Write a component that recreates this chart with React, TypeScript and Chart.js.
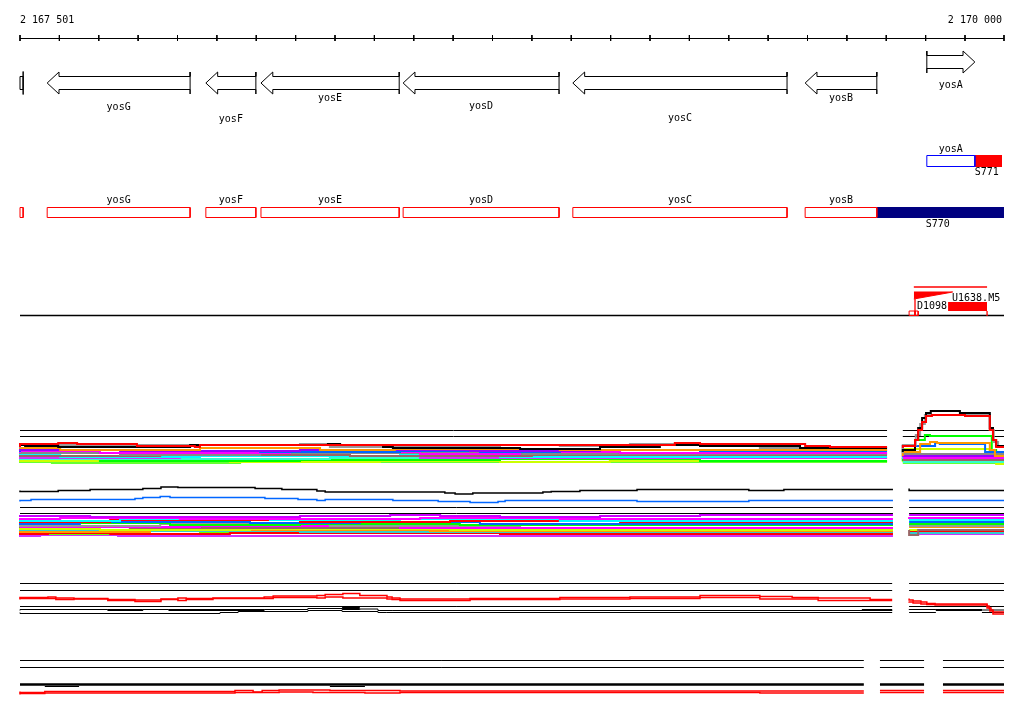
import React, { useEffect, useRef } from 'react';
import { Chart, registerables } from 'chart.js';

Chart.register(...registerables);

type Pt = [number, number] | null;

// ---------- window / axis (positions in bp from window start) ----------
const WINDOW_START = 2167501;
const WINDOW_END = 2170000;
const tickPositions = [0, 100, 200, 300, 400, 500, 600, 700, 800, 900, 1000, 1100, 1200, 1300, 1400, 1500, 1600, 1700, 1800, 1900, 2000, 2100, 2200, 2300, 2400, 2499];
const tickLabels = ['2 167 501', '2 170 000'];

// ---------- genes ----------
const geneNames = ['', 'yosG', 'yosF', 'yosE', 'yosD', 'yosC', 'yosB', 'yosA'];
const geneStarts = [0, 69, 472, 612, 973, 1404, 1994, 2303];
const geneEnds = [8, 432, 599, 963, 1369, 1948, 2176, 2425];
const geneStrands = [-1, -1, -1, -1, -1, -1, -1, 1];
const geneLabelLevels = [0, 107, 119, 98, 106, 118, 98, 85];

// ---------- transcription segments ----------
const yosAUtr = [2303, 2425];
const s771Span = [2425, 2494];
const s770Span = [2176, 2499];
const segmentLabels = ['S771', 'S770'];
const segmentLabelPos = [2455, 2331];

// ---------- promoter / terminator track ----------
const u1638Span = [2270, 2456];
const u1638Ramp: Pt[] = [[2270, 299], [2369, 292]];
const d1098Block = [2357, 2456];
const d1098Edges = [2273, 2456];
const smallBoxes = [[2258, 2273], [2273, 2281]];

// ---------- track spans (gaps = missing data) ----------
const trackASpans = [[0, 2202], [2242, 2499]];
const trackBSpans = [[0, 2217], [2258, 2499]];
const trackCSpans = [[0, 2215], [2258, 2499]];
const trackDSpans = [[0, 2143], [2184, 2296], [2344, 2499]];
const trackAGuides = [430.5, 436.5];
const trackBGuides = [507.5, 513.5];
const trackCGuides = [583.5, 590.5, 606.5];
const trackDGuides = [660.5, 667.5];
const trackDBase = 684.5;

// ---------- expression band A ----------
const bandAColors = ['#ff0000', '#000000', '#999999', '#ff9900', '#9900ff', '#0066ff', '#ff00ff', '#888888', '#996666', '#00ffff', '#cc33ff', '#33ffcc', '#00ff00', '#ccff00', '#66ff33'];
const bandA: Pt[][] = [
  [[0, 447], [97, 444], [145, 443], [297, 444], [444, 446], [457, 447], [1663, 445], [1727, 443], [1994, 444], [2057, 446], [2083, 447], [2202, 447], null, [2242, 448], [2273, 446], [2281, 440], [2291, 430], [2301, 422], [2316, 416], [2400, 415], [2463, 416], [2471, 430], [2479, 440], [2489, 447], [2499, 447]],
  [[0, 447], [13, 445], [97, 446], [432, 447], [782, 445], [813, 444], [922, 445], [947, 447], [1270, 448], [1473, 449], [1625, 447], [1727, 445], [1981, 446], [2083, 448], [2202, 448], null, [2242, 452], [2273, 450], [2281, 440], [2291, 428], [2301, 418], [2313, 413], [2387, 411], [2463, 413], [2471, 428], [2479, 440], [2489, 446], [2499, 446]],
  [[0, 448], [102, 445], [711, 445], [787, 444], [947, 447], [1219, 446], [1371, 445], [1549, 446], [1778, 444], [1879, 446], [1981, 448], [2202, 448], null, [2242, 453], [2275, 445], [2286, 435], [2298, 424], [2311, 415], [2463, 415], [2473, 430], [2484, 442], [2494, 447], [2499, 447]],
  [[0, 449], [102, 448], [457, 450], [762, 448], [952, 450], [1371, 449], [1600, 450], [2202, 450], null, [2242, 456], [2286, 452], [2311, 444], [2329, 442], [2463, 443], [2476, 450], [2489, 456], [2499, 456]],
  [[0, 451], [254, 450], [711, 451], [1143, 450], [1473, 451], [1879, 450], [2202, 450], null, [2242, 457], [2311, 456], [2499, 456]],
  [[0, 452], [381, 450], [610, 451], [965, 452], [1168, 451], [1371, 452], [1727, 450], [1981, 451], [2202, 451], null, [2242, 455], [2324, 446], [2336, 443], [2451, 444], [2468, 452], [2499, 452]],
  [[0, 453], [203, 451], [686, 453], [1016, 452], [1270, 454], [1524, 452], [1879, 453], [2202, 453], null, [2242, 458], [2499, 458]],
  [[0, 454], [254, 453], [610, 455], [1270, 453], [1727, 454], [2202, 454], null, [2242, 454], [2499, 454]],
  [[0, 455], [356, 456], [838, 455], [1300, 456], [1800, 455], [2202, 455], null, [2242, 460], [2499, 460]],
  [[0, 456], [102, 455], [457, 457], [965, 456], [1219, 455], [1727, 457], [2202, 457], null, [2242, 459], [2387, 458], [2499, 458]],
  [[0, 457], [406, 458], [1016, 456], [1524, 458], [2202, 458], null, [2242, 457], [2499, 457]],
  [[0, 458], [330, 459], [787, 459], [1473, 458], [2202, 458], null, [2242, 462], [2499, 462]],
  [[0, 460], [203, 459], [711, 461], [1219, 460], [1727, 459], [2108, 461], [2202, 461], null, [2242, 461], [2273, 459], [2298, 440], [2311, 435], [2468, 436], [2479, 450], [2489, 455], [2499, 455]],
  [[0, 462], [533, 461], [914, 462], [1219, 461], [1498, 462], [1829, 461], [2202, 461], null, [2242, 462], [2324, 449], [2463, 449], [2479, 456], [2489, 464], [2499, 464]],
  [[0, 463], [81, 462], [559, 463], [1270, 462], [2202, 462], null, [2242, 463], [2499, 463]],
];

// ---------- band B profiles ----------
const trendBBlack: Pt[] = [[0, 490.5], [97, 491.5], [178, 490.5], [312, 489.5], [358, 488.5], [401, 487], [597, 487.5], [665, 488.5], [754, 489.5], [775, 491], [1079, 492], [1105, 493], [1150, 494], [1328, 493], [1349, 492], [1422, 491.5], [1567, 490.5], [1851, 489.5], [1940, 490.5], [1983, 489.5], [2217, 489.5], null, [2258, 488.5], [2316, 490.5], [2499, 490.5]];
const trendBBlue: Pt[] = [[0, 501.5], [28, 500.5], [292, 499.5], [312, 498.5], [356, 497.5], [381, 496.5], [622, 497.5], [706, 498.5], [754, 499.5], [775, 500.5], [947, 499.5], [1062, 500.5], [1143, 501.5], [1214, 502.5], [1232, 501.5], [1567, 500.5], [1851, 501.5], [1897, 500.5], [2217, 500.5], null, [2258, 500.5], [2499, 500.5]];

const bandBColors = ['#cc00ff', '#ff00ff', '#00ffff', '#ff0000', '#0066ff', '#00ff00', '#999999', '#ff00ff', '#996666', '#ccff00', '#ff9900', '#33cccc', '#ff0000', '#66ff00', '#cc33ff'];
const bandB: Pt[][] = [
  [[0, 517], [178, 516], [711, 517], [940, 516], [1067, 515], [1219, 516], [1473, 517], [1727, 516], [2057, 515], [2217, 515], null, [2258, 515], [2499, 515]],
  [[0, 518], [102, 519], [406, 518], [1016, 519], [1371, 518], [1727, 519], [2217, 519], null, [2258, 517], [2438, 518], [2499, 518]],
  [[0, 520], [254, 521], [635, 519], [965, 520], [1371, 519], [1778, 521], [2217, 521], null, [2258, 520], [2499, 520]],
  [[0, 521], [229, 522], [711, 520], [1092, 522], [1524, 521], [1879, 522], [2217, 522], null, [2258, 519], [2499, 519]],
  [[0, 523], [152, 524], [584, 522], [863, 523], [1168, 522], [1625, 524], [2217, 524], null, [2258, 522], [2499, 522]],
  [[0, 524], [381, 523], [711, 525], [1117, 524], [1575, 525], [2217, 525], null, [2258, 524], [2499, 524]],
  [[0, 525], [356, 526], [787, 524], [1270, 526], [1981, 525], [2217, 525], null, [2258, 526], [2499, 526]],
  [[0, 527], [457, 527], [965, 526], [1473, 528], [2217, 528], null, [2258, 525], [2499, 525]],
  [[0, 528], [279, 527], [610, 528], [1371, 528], [2217, 528], null, [2258, 530], [2281, 535], [2443, 530], [2499, 530]],
  [[0, 530], [203, 529], [584, 530], [1092, 529], [1727, 530], [2217, 530], null, [2258, 530], [2499, 530]],
  [[0, 531], [330, 532], [1041, 530], [1727, 531], [2217, 531], null, [2258, 527], [2499, 527]],
  [[0, 532], [711, 531], [1473, 532], [2217, 532], null, [2258, 533], [2499, 533]],
  [[0, 533], [71, 534], [229, 533], [533, 534], [1219, 533], [1727, 534], [2217, 534], null, [2258, 532], [2499, 532]],
  [[0, 533], [457, 534], [965, 533], [2217, 533], null, [2258, 531], [2499, 531]],
  [[0, 535], [51, 536], [249, 535], [1473, 536], [2217, 536], null, [2258, 534], [2499, 534]],
];

// ---------- track C ----------
const trackCRedHigh: Pt[] = [[0, 598.5], [71, 597.5], [91, 597], [137, 598], [223, 598.5], [292, 599.5], [358, 600], [401, 599], [422, 598], [490, 598.5], [620, 598], [643, 597], [754, 596], [775, 595.5], [820, 594.5], [863, 593.5], [932, 595.5], [945, 597], [965, 598], [1143, 599], [1371, 598.5], [1549, 597.5], [1727, 597], [1879, 595.5], [1961, 596.5], [2027, 597.5], [2159, 598], [2202, 599.5], [2215, 599.5], null, [2258, 598.5], [2268, 600], [2288, 601], [2303, 602], [2324, 603.5], [2456, 604], [2461, 606], [2466, 608], [2471, 610], [2476, 612], [2499, 612]];
const trackCRedLow: Pt[] = [[0, 599.5], [91, 598.5], [137, 599.5], [223, 599], [292, 600.5], [358, 601.5], [401, 599.5], [422, 600.5], [490, 599.5], [643, 598.5], [754, 597.5], [775, 598], [820, 597], [932, 598], [945, 599], [965, 599.5], [1143, 600.5], [1371, 599.5], [1549, 599], [1727, 598.5], [1879, 597.5], [2027, 599], [2202, 600.5], [2215, 600.5], null, [2258, 601.5], [2268, 602], [2288, 603], [2303, 604], [2324, 604.5], [2456, 605], [2463, 608], [2471, 611], [2476, 614], [2499, 614]];
const trackCBlackMid: Pt[] = [[0, 610.5], [223, 609.5], [312, 610.5], [378, 609.5], [620, 610.5], [731, 609.5], [818, 608.5], [863, 609.5], [909, 609], [945, 610.5], [2215, 610.5], null, [2258, 610], [2326, 609.5], [2443, 610], [2499, 610]];
const trackCBlackThick: Pt[] = [[223, 610], [312, 610], null, [378, 610], [620, 610], null, [818, 608], [863, 608], null, [2138, 610], [2215, 610], null, [2326, 610], [2443, 610]];
const trackCBlackLow: Pt[] = [[0, 612.5], [508, 613.5], [554, 612.5], [731, 611.5], [818, 610.5], [909, 611.5], [930, 612.5], [2215, 612.5], null, [2258, 612.5], [2326, 612.5], null, [2443, 612.5], [2499, 612.5]];

// ---------- track D ----------
const trackDExtra: Pt[] = [[63, 686.5], [150, 686.5], null, [787, 686.5], [876, 686.5]];
const trackDRedHigh: Pt[] = [[0, 691.5], [63, 692.5], [546, 691.5], [592, 690.5], [615, 692], [658, 690.5], [787, 690], [965, 690.5], [2128, 691], [2143, 691], null, [2184, 690.5], [2296, 690.5], null, [2344, 690.5], [2499, 690.5]];
const trackDRedLow: Pt[] = [[0, 694.5], [63, 693.5], [546, 693], [658, 692.5], [744, 692], [876, 692.5], [965, 693], [1879, 692.5], [2128, 693], [2143, 693], null, [2184, 692.5], [2296, 692.5], null, [2344, 692.5], [2499, 692.5]];

// ---------- helpers ----------
const X_MIN = -50.8;
const X_MAX = 2549.8;

const toData = (pts: Pt[]) => {
  const out: { x: number; y: number | null }[] = [];
  let lastX = 0;
  for (const p of pts) {
    if (p === null) out.push({ x: lastX, y: null });
    else { out.push({ x: p[0], y: p[1] }); lastX = p[0]; }
  }
  return out;
};

const line = (pts: Pt[], color: string, width: number, stepped: any = false) => ({
  data: toData(pts), showLine: true, borderColor: color, borderWidth: width,
  pointRadius: 0, pointHoverRadius: 0, fill: false, stepped, tension: 0,
  borderCapStyle: 'butt', borderJoinStyle: 'miter',
});

const area = (x0: number, x1: number, yBottom: number, yTop: number, color: string) => ({
  data: [{ x: x0, y: yBottom }, { x: x1, y: yBottom }], showLine: true,
  borderColor: 'rgba(0,0,0,0)', borderWidth: 0, backgroundColor: color,
  fill: { value: yTop }, pointRadius: 0, pointHoverRadius: 0,
});

const rect = (x0: number, x1: number, y0: number, y1: number, color: string) =>
  line([[x0, y0], [x1, y0], [x1, y1], [x0, y1], [x0, y0]], color, 1);

const spanLines = (spans: number[][], level: number): Pt[] => {
  const pts: Pt[] = [];
  spans.forEach((s, i) => {
    if (i > 0) pts.push(null);
    pts.push([s[0], level], [s[1], level]);
  });
  return pts;
};

const HEAD = 30;
const arrow = (start: number, end: number, strand: number, c: number): Pt[] => {
  const b = 6.5, h = 11;
  if (strand < 0) {
    const tail = end, tip = start, base = start + HEAD;
    return [[tail, c - h], [tail, c - b], [base, c - b], [base, c - h], [tip, c], [base, c + h], [base, c + b], [tail, c + b], [tail, c + h], [tail, c - b]];
  }
  const tail = start, tip = end, base = end - HEAD;
  return [[tail, c - h], [tail, c - b], [base, c - b], [base, c - h], [tip, c], [base, c + h], [base, c + b], [tail, c + b], [tail, c + h], [tail, c - b]];
};

function buildDatasets() {
  const ds: any[] = [];
  // fills first (bottom)
  ds.push(area(s770Span[0], s770Span[1], 218, 207, '#000080'));
  ds.push(area(s771Span[0], s771Span[1], 167, 155, '#ff0000'));
  ds.push(area(d1098Block[0], d1098Block[1], 311, 302, '#ff0000'));
  ds.push({ ...line(u1638Ramp, '#ff0000', 1), fill: { value: 291.5 }, backgroundColor: '#ff0000' });

  // axis
  ds.push(line([[0, 38.5], [WINDOW_END - WINDOW_START, 38.5]], '#000000', 1));
  const tickPts: Pt[] = [];
  tickPositions.forEach((t) => { tickPts.push([t, 35], [t, 41], null); });
  ds.push(line(tickPts, '#000000', 1));

  // genes row 1
  geneStarts.forEach((s, i) => {
    const e = geneEnds[i];
    if (i === 0) {
      ds.push(line([[s, 76.5], [e, 76.5], [e, 71.5], [e, 94.5], [e, 89.5], [s, 89.5], [s, 76.5]], '#000000', 1));
    } else {
      ds.push(line(arrow(s, e, geneStrands[i], geneStrands[i] > 0 ? 62 : 83), '#000000', 1));
    }
  });

  // row 2 (yosA transcript)
  ds.push(rect(yosAUtr[0], yosAUtr[1], 155.5, 166.5, '#0000ff'));

  // row 3 gene boxes
  geneStarts.forEach((s, i) => {
    if (geneStrands[i] < 0) ds.push(rect(s, geneEnds[i], 207.5, 217.5, '#ff0000'));
  });

  // row 4
  ds.push(line([[0, 315.5], [2499, 315.5]], '#000000', 1.3));
  ds.push(line([[u1638Span[0], 287], [u1638Span[1], 287]], '#ff0000', 1.3));
  ds.push(line([[d1098Edges[0], 299], [d1098Edges[0], 316], null, [d1098Edges[1], 311], [d1098Edges[1], 316]], '#ff0000', 1.3));
  smallBoxes.forEach((b) => ds.push(rect(b[0], b[1], 311, 315.5, '#ff0000')));

  // guides
  trackAGuides.forEach((g) => ds.push(line(spanLines(trackASpans, g), '#000000', 1)));
  trackBGuides.forEach((g) => ds.push(line(spanLines(trackBSpans, g), '#000000', 1)));
  trackCGuides.forEach((g) => ds.push(line(spanLines(trackCSpans, g), '#000000', 1)));
  trackDGuides.forEach((g) => ds.push(line(spanLines(trackDSpans, g), '#000000', 1)));
  ds.push(line(spanLines(trackDSpans, trackDBase), '#000000', 2.5));

  // band A (reverse so top lines painted last)
  for (let i = bandA.length - 1; i >= 0; i--) ds.push(line(bandA[i], bandAColors[i], 2, 'after'));
  // band B
  ds.push(line(trendBBlack, '#000000', 1.5, 'after'));
  ds.push(line(trendBBlue, '#0066ff', 1.5, 'after'));
  for (let i = bandB.length - 1; i >= 0; i--) ds.push(line(bandB[i], bandBColors[i], 2, 'after'));

  // track C
  ds.push(line(trackCBlackMid, '#000000', 1, 'after'));
  ds.push(line(trackCBlackThick, '#000000', 2, 'after'));
  ds.push(line(trackCBlackLow, '#000000', 1, 'after'));
  ds.push(line(trackCRedLow, '#ff0000', 1.5, 'after'));
  ds.push(line(trackCRedHigh, '#ff0000', 1.5, 'after'));

  // track D
  ds.push(line(trackDExtra, '#000000', 1, 'after'));
  ds.push(line(trackDRedLow, '#ff0000', 1.5, 'after'));
  ds.push(line(trackDRedHigh, '#ff0000', 1.5, 'after'));

  return ds.reverse();
}

type Label = { text: string; pos: number; level: number; align: CanvasTextAlign };

function buildLabels(): Label[] {
  const labels: Label[] = [];
  labels.push({ text: tickLabels[0], pos: tickPositions[0], level: 20, align: 'left' });
  labels.push({ text: tickLabels[1], pos: tickPositions[tickPositions.length - 1] - 5, level: 20, align: 'right' });
  geneNames.forEach((n, i) => {
    if (!n) return;
    const mid = (geneStarts[i] + geneEnds[i]) / 2;
    labels.push({ text: n, pos: mid, level: geneLabelLevels[i], align: 'center' });
    if (geneStrands[i] < 0) labels.push({ text: n, pos: mid, level: 200.5, align: 'center' });
    else labels.push({ text: n, pos: mid, level: 149, align: 'center' });
  });
  labels.push({ text: segmentLabels[0], pos: segmentLabelPos[0], level: 172, align: 'center' });
  labels.push({ text: segmentLabels[1], pos: segmentLabelPos[1], level: 224, align: 'center' });
  labels.push({ text: 'U1638.M5', pos: 2367, level: 298, align: 'left' });
  labels.push({ text: 'D1098', pos: 2278, level: 306, align: 'left' });
  return labels;
}

const labelPlugin = {
  id: 'trackLabels',
  afterDatasetsDraw(chart: any) {
    const { ctx, scales } = chart;
    const x = scales.x, y = scales.y;
    ctx.save();
    ctx.font = '10px "DejaVu Sans Mono", monospace';
    ctx.fillStyle = '#000000';
    ctx.textBaseline = 'middle';
    for (const l of buildLabels()) {
      ctx.textAlign = l.align;
      ctx.fillText(l.text, x.getPixelForValue(l.pos), y.getPixelForValue(l.level));
    }
    ctx.restore();
  },
};

export default function App() {
  const ref = useRef<HTMLCanvasElement>(null);
  useEffect(() => {
    if (!ref.current) return;
    const chart = new Chart(ref.current, {
      type: 'scatter',
      data: { datasets: buildDatasets() },
      options: {
        animation: false,
        responsive: false,
        devicePixelRatio: 1,
        events: [],
        layout: { padding: 0 },
        plugins: { legend: { display: false }, tooltip: { enabled: false }, title: { display: false } },
        scales: {
          x: { type: 'linear', min: X_MIN, max: X_MAX, display: false },
          y: { type: 'linear', min: 0, max: 714, reverse: true, display: false },
        },
      } as any,
      plugins: [labelPlugin],
    });
    return () => chart.destroy();
  }, []);
  return (
    <div style={{ position: 'absolute', left: 0, top: 0, width: 1024, height: 714, background: '#ffffff' }}>
      <canvas ref={ref} width={1024} height={714} style={{ display: 'block', width: 1024, height: 714 }} />
    </div>
  );
}
